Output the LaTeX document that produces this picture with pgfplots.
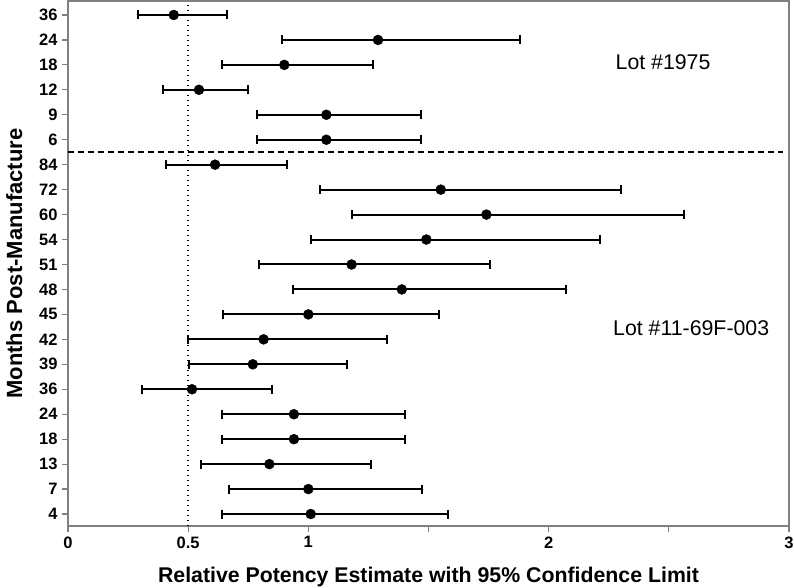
\documentclass[border=0pt]{standalone}
\usepackage{pgfplots}
\pgfplotsset{compat=1.18}
\usepackage{pgfplotstable}
\usepackage{fontspec}
\setmainfont{Liberation Sans}
\definecolor{axgray}{RGB}{128,128,128}

\pgfplotstableread{
row lo est hi
21 0.290 0.440 0.660
20 0.892 1.290 1.880
19 0.641 0.900 1.270
18 0.397 0.545 0.749
17 0.785 1.075 1.468
16 0.785 1.075 1.468
15 0.409 0.612 0.911
14 1.050 1.551 2.300
13 1.180 1.741 2.563
12 1.011 1.491 2.212
11 0.795 1.180 1.755
10 0.936 1.389 2.071
9 0.646 1.000 1.544
8 0.498 0.814 1.326
7 0.505 0.769 1.162
6 0.309 0.516 0.849
5 0.641 0.940 1.402
4 0.641 0.940 1.402
3 0.553 0.838 1.261
2 0.670 1.000 1.472
1 0.641 1.010 1.583
}\potency

\begin{document}
\begin{tikzpicture}
\begin{axis}[
  at={(0,0)}, anchor=south west,
  scale only axis,
  width=721pt, height=525pt,
  xmin=0, xmax=3,
  ymin=0.52, ymax=21.56,
  xtick={0,0.5,1,1.5,2,2.5,3},
  xticklabels={0,0.5,1,,2,,3},
  ytick={1,...,21},
  yticklabels={4,7,13,18,24,36,39,42,45,48,51,54,60,72,84,6,9,12,18,24,36},
  xtick pos=bottom, ytick pos=left,
  tick align=outside,
  major tick length=6pt,
  tick style={axgray, line width=1.2pt},
  axis line style={axgray, line width=1.8pt},
  /pgf/number format/assume math mode=true,
  ticklabel style={font=\bfseries\fontsize{16.5}{16.5}\selectfont},
  xticklabel style={yshift=-1pt},
  yticklabel style={xshift=-1pt},
  xlabel={Relative Potency Estimate with 95\% Confidence Limit},
  ylabel={Months Post-Manufacture},
  xlabel style={font=\bfseries\fontsize{21.3}{21.3}\selectfont, yshift=-12pt},
  ylabel style={font=\bfseries\fontsize{22}{22}\selectfont, yshift=10pt},
  clip=false,
]
\draw[black, line width=1.4pt, dash pattern=on 1.4pt off 3.6pt]
  (axis cs:0.5,0.52) -- (axis cs:0.5,21.56);
\draw[black, line width=1.6pt, dash pattern=on 6pt off 4pt]
  (axis cs:0,15.52) -- (axis cs:2.975,15.52);
\addplot[only marks, mark=*, mark size=5pt, black,
  error bars/.cd, x dir=both, x explicit,
  error mark=-,
  error bar style={line width=2pt, black},
  error mark options={rotate=90, mark size=4.5pt, line width=2pt, black}]
  table[x=est, y=row,
        x error minus expr={\thisrow{est}-\thisrow{lo}},
        x error plus expr={\thisrow{hi}-\thisrow{est}}] {\potency};
\node[font=\fontsize{21.3}{21.3}\selectfont] at (axis cs:2.476,19.12) {Lot \#1975};
\node[font=\fontsize{21.3}{21.3}\selectfont] at (axis cs:2.593,8.45) {Lot \#11-69F-003};
\end{axis}
\pgfresetboundingbox
\path[use as bounding box] (-68pt,-62pt) rectangle (726pt,526pt);
\end{tikzpicture}
\end{document}
